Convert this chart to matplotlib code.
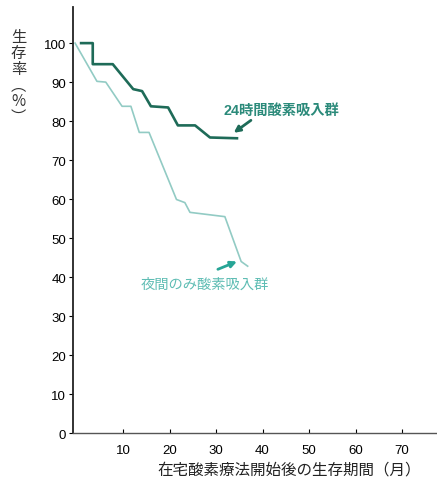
import matplotlib
matplotlib.use("Agg")
import matplotlib.pyplot as plt

plt.rcParams["font.family"] = ["Liberation Sans", "Noto Sans CJK JP", "DejaVu Sans"]

# Survival curves (months, survival %)
months_24h = [1.0, 3.5, 3.5, 7.8, 12.2, 14.1, 16.0, 19.7, 21.8, 25.5, 28.7, 34.5]
surv_24h = [100, 100, 94.6, 94.6, 88.2, 87.7, 83.8, 83.5, 78.9, 78.9, 75.8, 75.6]

months_night = [-0.3, 4.4, 6.3, 9.8, 11.7, 13.5, 15.6, 21.5, 23.3, 24.4, 31.9, 35.4, 36.8]
surv_night = [100, 90.2, 90.0, 83.8, 83.8, 77.1, 77.1, 59.9, 59.1, 56.6, 55.5, 44.0, 42.8]

x_ticks = [10, 20, 30, 40, 50, 60, 70]
y_ticks = [0, 10, 20, 30, 40, 50, 60, 70, 80, 90, 100]

label_24h = "24時間酸素吸入群"
label_night = "夜間のみ酸素吸入群"
x_label = "在宅酸素療法開始後の生存期間（月）"
y_label = "生\n存\n率\n︵\n%\n︶"

dark = "#1e6b58"
light = "#92cbc4"
label_dark = "#2b8a7a"
label_light = "#5fbdb4"

fig = plt.figure(figsize=(4.37, 4.85), dpi=100)
ax = fig.add_axes([0.167, 0.105, 0.833, 0.878])

ax.plot(months_night, surv_night, color=light, lw=1.2, solid_joinstyle="round")
ax.plot(months_24h, surv_24h, color=dark, lw=1.9, solid_joinstyle="round")

ax.set_xlim(-0.75, 77.5)
ax.set_ylim(0, 109.2)
ax.set_xticks(x_ticks)
ax.set_yticks(y_ticks)

for side in ("top", "right"):
    ax.spines[side].set_visible(False)
ax.spines["left"].set_linewidth(1.3)
ax.spines["left"].set_color("#222222")
ax.spines["bottom"].set_linewidth(1.0)
ax.spines["bottom"].set_color("#555555")

ax.tick_params(axis="y", direction="out", length=3, width=0.8, labelsize=9.5, pad=2)
ax.tick_params(axis="x", direction="in", length=3, width=0.8, labelsize=9.5, pad=8)

# labels with arrows
ax.text(44.0, 82.8, label_24h, color=label_dark, fontsize=10.3, fontweight="bold",
        family=["Liberation Sans", "Noto Sans CJK JP"], ha="center", va="center")
ax.annotate("", xy=(33.8, 77.0), xytext=(37.5, 80.2),
            arrowprops=dict(arrowstyle="-|>", color=dark, lw=2.0,
                            mutation_scale=9, shrinkA=0, shrinkB=0))

ax.text(27.6, 38.3, label_night, color=label_light, fontsize=10.3,
        family=["Noto Sans CJK JP"], ha="center", va="center")
ax.annotate("", xy=(34.5, 44.0), xytext=(30.4, 42.0),
            arrowprops=dict(arrowstyle="-|>", color="#27a596", lw=2.0,
                            mutation_scale=9, shrinkA=0, shrinkB=0))

fig.text(0.964, 0.031, x_label, fontsize=11.2, family=["Noto Sans CJK JP"],
         ha="right", va="center", color="#222222")
fig.text(0.042, 0.84, y_label, fontsize=11, family=["Noto Sans CJK JP"],
         ha="center", va="center", linespacing=0.92, color="#333333")

fig.savefig("out.png", dpi=100)
